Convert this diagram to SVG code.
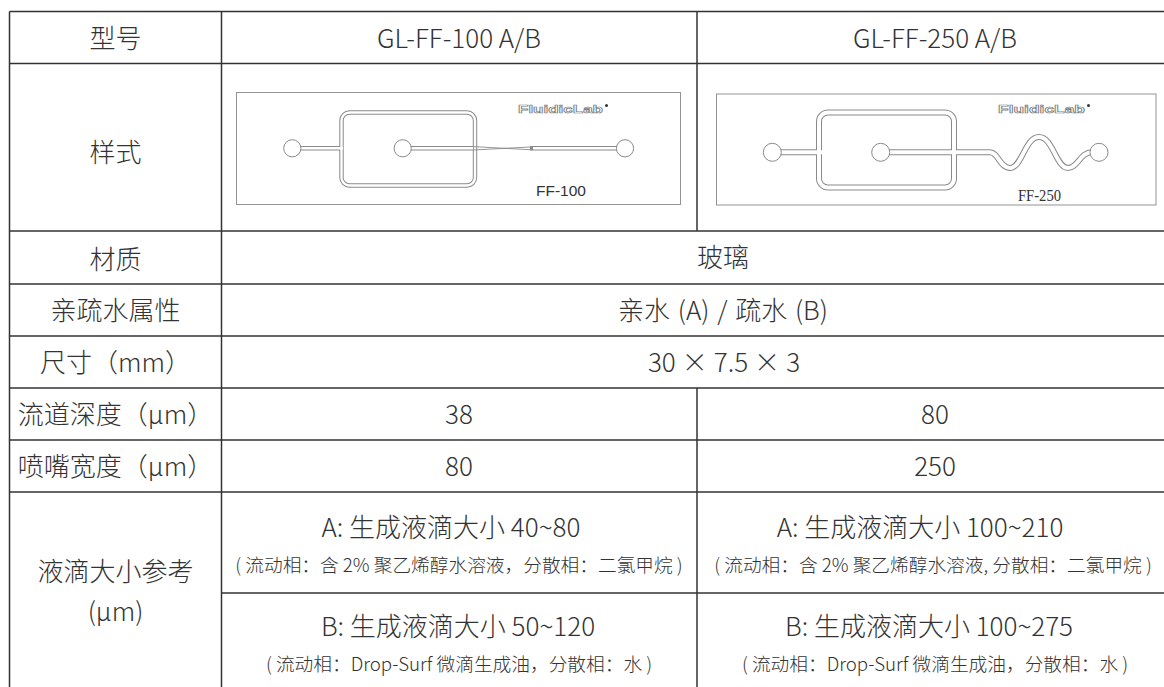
<svg xmlns="http://www.w3.org/2000/svg" width="1164" height="687" viewBox="0 0 1164 687">
<style>
.grid{stroke:#333;stroke-width:1.5;fill:none}
.t{font-family:"Noto Sans CJK SC","Noto Sans",sans-serif;font-weight:300;fill:#333;font-size:26px;text-anchor:middle}
.s{font-family:"Noto Sans CJK SC","Noto Sans",sans-serif;font-weight:300;fill:#333;font-size:18.7px;text-anchor:middle}
.fw{font-feature-settings:"fwid" 1}
.chip{fill:#fff;stroke:#939393;stroke-width:1}
.c1o{fill:none;stroke:#8a8a8a;stroke-width:4.4}
.c1i{fill:none;stroke:#fff;stroke-width:2.4}
.c2o{fill:none;stroke:#8a8a8a;stroke-width:6}
.c2i{fill:none;stroke:#fff;stroke-width:4}
.port{fill:#fff;stroke:#8a8a8a;stroke-width:1}
.logo{font-family:"Liberation Sans",Arial,sans-serif;font-weight:bold;font-size:11.5px;fill:#fff;stroke:#808080;stroke-width:0.7}
</style>
<rect width="1164" height="687" fill="#fff"/>
<g id="grid" class="grid">
<line x1="9.5" y1="11.5" x2="1164" y2="11.5"/>
<line x1="9.5" y1="63.5" x2="1164" y2="63.5"/>
<line x1="9.5" y1="231" x2="1164" y2="231"/>
<line x1="9.5" y1="284" x2="1164" y2="284"/>
<line x1="9.5" y1="336" x2="1164" y2="336"/>
<line x1="9.5" y1="388" x2="1164" y2="388"/>
<line x1="9.5" y1="440" x2="1164" y2="440"/>
<line x1="9.5" y1="492" x2="1164" y2="492"/>
<line x1="221.5" y1="593" x2="1164" y2="593"/>
<line x1="9.5" y1="11.5" x2="9.5" y2="687"/>
<line x1="221.5" y1="11.5" x2="221.5" y2="687"/>
<line x1="697" y1="11.5" x2="697" y2="231"/>
<line x1="697" y1="388" x2="697" y2="687"/>
</g>
<g id="labels">
<text class="t" x="115.5" y="47.5">型号</text>
<text class="t" x="115.5" y="162">样式</text>
<text class="t" x="115.5" y="269">材质</text>
<text class="t" x="115.5" y="320">亲疏水属性</text>
<text class="t" x="115.5" y="372">尺寸（mm）</text>
<text class="t" x="115.5" y="423.5">流道深度（μm）</text>
<text class="t" x="115.5" y="475.5">喷嘴宽度（μm）</text>
<text class="t" x="115.5" y="581">液滴大小参考</text>
<text class="t" x="115.5" y="621">(μm)</text>
</g>
<g id="values">
<text class="t" x="459" y="47.5">GL-FF-100 A/B</text>
<text class="t" x="935" y="47.5">GL-FF-250 A/B</text>
<text class="t" x="723" y="267">玻璃</text>
<text class="t" x="723" y="319.5" word-spacing="2">亲水 (A) / 疏水 (B)</text>
<text class="t" x="724" y="371.5">30<tspan class="fw" dx="6">×</tspan><tspan dx="6">7.5</tspan><tspan class="fw" dx="6">×</tspan><tspan dx="6">3</tspan></text>
<text class="t" x="459" y="423.5">38</text>
<text class="t" x="935" y="423.5">80</text>
<text class="t" x="459" y="475.5">80</text>
<text class="t" x="935" y="475.5">250</text>
<text class="t" x="451" y="537">A: 生成液滴大小 40~80</text>
<text class="s" x="459" y="571.5">( 流动相：含 2% 聚乙烯醇水溶液，分散相：二氯甲烷 )</text>
<text class="t" x="458" y="636">B: 生成液滴大小 50~120</text>
<text class="s" x="459" y="670.5">( 流动相：Drop-Surf 微滴生成油，分散相：水 )</text>
<text class="t" x="920" y="537">A: 生成液滴大小 100~210</text>
<text class="s" x="933" y="571.5">( 流动相：含 2% 聚乙烯醇水溶液, 分散相：二氯甲烷 )</text>
<text class="t" x="929" y="636">B: 生成液滴大小 100~275</text>
<text class="s" x="935" y="670.5">( 流动相：Drop-Surf 微滴生成油，分散相：水 )</text>
</g>
<g id="chip-ff100">
<rect class="chip" x="236.5" y="92.5" width="444" height="112"/>
<rect class="c1o" x="341.5" y="112.5" width="133.5" height="73" rx="8"/>
<path class="c1o" d="M300 148.3H341.5M410 148.3H476"/>
<path class="c1o" d="M530 148.3H618"/>
<rect class="c1i" x="341.5" y="112.5" width="133.5" height="73" rx="8"/>
<path class="c1i" d="M300 148.3H343M410 148.3H473"/>
<path class="c1i" d="M533 148.3H618"/>
<path d="M473 146.6L532 149.8M473 150L532 146.9" fill="none" stroke="#8a8a8a" stroke-width="0.9"/>
<circle class="port" cx="292.3" cy="148.3" r="8.6"/>
<circle class="port" cx="402.7" cy="148.3" r="8.6"/>
<circle class="port" cx="625" cy="148.3" r="8.6"/>
<text class="logo" x="518" y="113" textLength="85" lengthAdjust="spacingAndGlyphs">FluidicLab</text>
<circle cx="606.5" cy="105.5" r="1.5" fill="#333"/>
<text x="536" y="196" font-family="Liberation Sans,Arial,sans-serif" font-size="14.5" fill="#333" textLength="50" lengthAdjust="spacingAndGlyphs">FF-100</text>
</g>
<g id="chip-ff250">
<rect class="chip" x="716.5" y="94" width="439.5" height="111"/>
<rect class="c2o" x="819" y="112.5" width="135" height="75" rx="9"/>
<path class="c2o" d="M780 152.3H819M888 152.3H990C998 152.3 1000 168 1010 168C1022 168 1025 137 1039 137C1053 137 1056 168 1068 168C1078 168 1080 152.3 1092 152.3"/>
<rect class="c2i" x="819" y="112.5" width="135" height="75" rx="9"/>
<path class="c2i" d="M780 152.3H822M888 152.3H990C998 152.3 1000 168 1010 168C1022 168 1025 137 1039 137C1053 137 1056 168 1068 168C1078 168 1080 152.3 1092 152.3"/>
<circle class="port" cx="772.3" cy="152.3" r="9"/>
<circle class="port" cx="880.7" cy="152.3" r="9"/>
<circle class="port" cx="1099" cy="152.3" r="9"/>
<text class="logo" x="998" y="113" textLength="87" lengthAdjust="spacingAndGlyphs">FluidicLab</text>
<circle cx="1088.5" cy="105.5" r="1.5" fill="#333"/>
<text x="1018" y="201" font-family="Liberation Serif,Times New Roman,serif" font-size="16" fill="#333" textLength="43" lengthAdjust="spacingAndGlyphs">FF-250</text>
</g>
</svg>
